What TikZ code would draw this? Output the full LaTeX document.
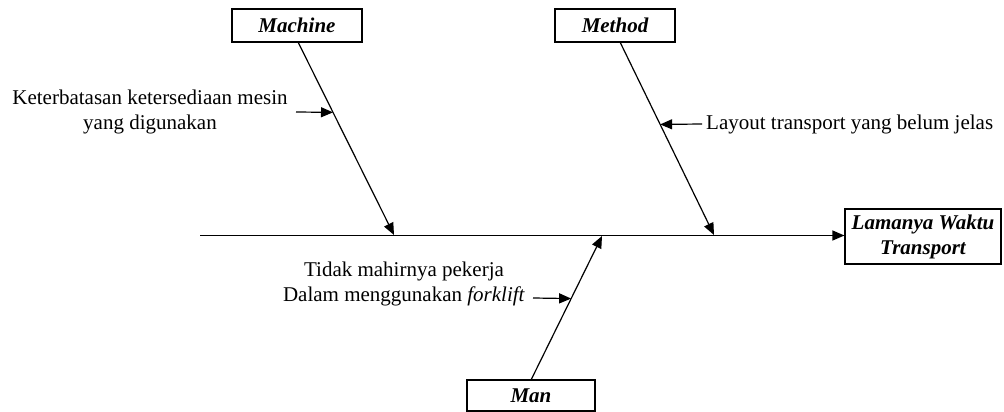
\documentclass[tikz,border=0pt]{standalone}
\usepackage{fontspec}
\setmainfont{Liberation Serif}
\usetikzlibrary{arrows.meta,calc}
\begin{document}
\begin{tikzpicture}[x=1pt,y=-1pt,
  every node/.style={font=\fontsize{21}{25}\selectfont},
  catbox/.style={draw,line width=1.2pt,inner sep=0pt,font=\fontsize{21}{25}\selectfont\bfseries\itshape},
  bone/.style={line width=1.2pt,-{Triangle[length=12pt,width=10pt]}},
  cause/.style={line width=1.2pt,-{Triangle[length=12pt,width=10pt]}},
  lbl/.style={align=center,inner sep=0pt}]
\useasboundingbox (0,0) rectangle (1004,412);
% category boxes
\node[catbox,minimum width=130pt,minimum height=33pt] (machine) at (297,25.5) {Machine};
\node[catbox,minimum width=120pt,minimum height=33pt] (method) at (615,25.5) {Method};
\node[catbox,minimum width=128pt,minimum height=31pt] (man) at (531,395.5) {Man};
\node[catbox,minimum width=156pt,minimum height=55pt,align=center] (effect) at (923,236.5) {Lamanya Waktu\\Transport};
% spine
\coordinate (tail) at (200,235.5);
\draw[bone] (tail) -- (tail -| effect.west);
% bone tips on spine
\coordinate (mtip) at (394,235);
\coordinate (ttip) at (714,235);
\coordinate (ntip) at (602,236);
\coordinate (mtop) at (298,42);
\coordinate (ttop) at (620,42);
\coordinate (nbot) at (531,380);
\draw[bone] (mtop) -- (mtip);
\draw[bone] (ttop) -- (ttip);
\draw[bone] (nbot) -- (ntip);
% cause points on bones
\coordinate (mc) at ($(mtop)!0.3646!(mtip)$);
\coordinate (tc) at ($(ttop)!0.4271!(ttip)$);
\coordinate (nc) at ($(nbot)!0.5655!(ntip)$);
% cause labels
\node[lbl] (c1) at (150,112) {Keterbatasan ketersediaan mesin\\yang digunakan};
\node[lbl,anchor=west] (c2) at (706,124) {Layout transport yang belum jelas};
\node[lbl] (c3) at (404,284) {Tidak mahirnya pekerja\\Dalam menggunakan \textit{forklift}};
\coordinate (c1s) at (296,112);
\coordinate (c2s) at (702,124);
\coordinate (c3s) at (533,298);
\draw[cause] (c1s) -- (mc);
\draw[cause] (c2s) -- (tc);
\draw[cause] (c3s) -- (nc);
\end{tikzpicture}
\end{document}
